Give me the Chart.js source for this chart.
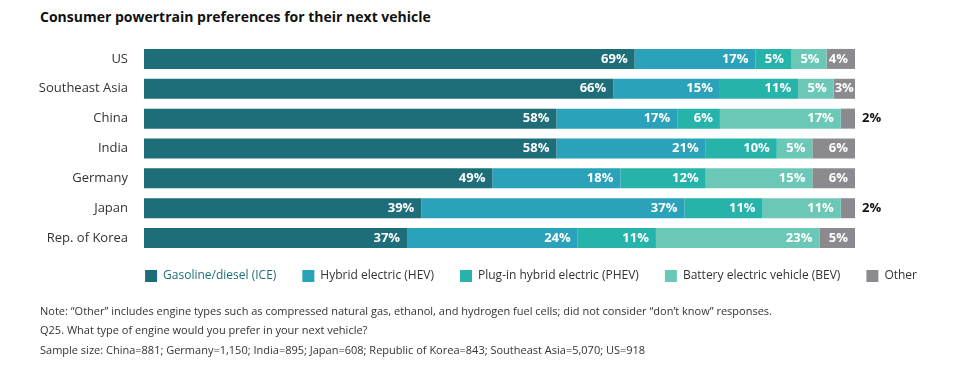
<!DOCTYPE html>
<html>
<head>
<meta charset="utf-8">
<script src="https://cdn.jsdelivr.net/npm/chart.js@4"></script>
<style>
  html, body { margin: 0; padding: 0; background: #fff; }
  body { width: 964px; height: 372px; position: relative; overflow: hidden; font-family: "Open Sans", sans-serif; }
  #title { position: absolute; left: 40px; top: 7px; font-size: 14px; font-weight: bold; color: #111; }
  #wrap { position: absolute; left: 0; top: 0; width: 964px; height: 305px; }
  .note { position: absolute; left: 40px; font-size: 11px; color: #333; white-space: nowrap; }
</style>
</head>
<body>
<div id="title">Consumer powertrain preferences for their next vehicle</div>
<div id="wrap"><canvas id="chart"></canvas></div>
<div class="note" style="top:303px">Note: “Other” includes engine types such as compressed natural gas, ethanol, and hydrogen fuel cells; did not consider “don’t know” responses.</div>
<div class="note" style="top:322px">Q25. What type of engine would you prefer in your next vehicle?</div>
<div class="note" style="top:342px">Sample size: China=881; Germany=1,150; India=895; Japan=608; Republic of Korea=843; Southeast Asia=5,070; US=918</div>

<script>
// ========== Data ==========

const countries = ['US', 'Southeast Asia', 'China', 'India', 'Germany', 'Japan', 'Rep. of Korea'];
const seriesNames = ['Gasoline/diesel (ICE)', 'Hybrid electric (HEV)', 'Plug-in hybrid electric (PHEV)', 'Battery electric vehicle (BEV)', 'Other'];
const iceValues = [69, 66, 58, 58, 49, 39, 37];
const hevValues = [17, 15, 17, 21, 18, 37, 24];
const phevValues = [5, 11, 6, 10, 12, 11, 11];
const bevValues = [5, 5, 17, 5, 15, 11, 23];
const otherValues = [4, 3, 2, 6, 6, 2, 5];
const seriesColors = ['#1d6e78', '#2aa2b9', '#26b3aa', '#6cc8b6', '#8b8b8f'];

// ========== Plugins ==========

// value labels: white inside the segment, black outside for tiny segments
const segmentLabels = {
  id: 'segmentLabels',
  afterDatasetsDraw(chart) {
    const ctx = chart.ctx;
    ctx.save();
    ctx.font = 'bold 13px "Open Sans"';
    ctx.textBaseline = 'middle';
    chart.data.datasets.forEach((ds, di) => {
      const meta = chart.getDatasetMeta(di);
      meta.data.forEach((bar, i) => {
        const v = ds.data[i];
        const text = v + '%';
        const tw = ctx.measureText(text).width;
        const w = bar.x - bar.base;
        if (v <= 2) {
          ctx.fillStyle = '#111';
          ctx.textAlign = 'left';
          ctx.fillText(text, bar.x + 7, bar.y);
        } else {
          const pad = Math.max(1, Math.min(7, w - tw - 1));
          ctx.fillStyle = '#fff';
          ctx.textAlign = 'right';
          ctx.fillText(text, bar.x - pad, bar.y);
        }
      });
    });
    ctx.restore();
  }
};

// pull the legend up closer to the bars
const legendNudge = {
  id: 'legendNudge',
  afterLayout(chart) {
    const lg = chart.legend;
    if (!lg) return;
    lg.top -= 9;
    lg.bottom -= 9;
  }
};

// ========== Chart ==========

const allValues = [iceValues, hevValues, phevValues, bevValues, otherValues];

new Chart(document.getElementById('chart'), {
  type: 'bar',
  data: {
    labels: countries,
    datasets: allValues.map((vals, i) => ({
      label: seriesNames[i],
      data: vals,
      backgroundColor: seriesColors[i],
      borderWidth: 0,
      categoryPercentage: 1,
      barPercentage: 0.67,
    })),
  },
  options: {
    indexAxis: 'y',
    responsive: true,
    maintainAspectRatio: false,
    animation: false,
    layout: { padding: { top: 44, right: 21, left: 0, bottom: 4 } },
    scales: {
      x: { stacked: true, min: 0, max: 100, display: false },
      y: {
        stacked: true,
        grid: { display: false, drawTicks: false },
        border: { display: false },
        ticks: { padding: 16, color: '#333', font: { family: 'Open Sans', size: 13 } },
        afterFit: (scale) => { scale.width = 144; },
      },
      yRight: {
        type: 'category',
        position: 'right',
        grid: { display: false, drawTicks: false },
        border: { display: false },
        ticks: { display: false },
        afterFit: (scale) => { scale.width = 88; },
      },
    },
    plugins: {
      legend: {
        position: 'bottom',
        align: 'end',
        labels: {
          boxWidth: 12,
          boxHeight: 12,
          padding: 26,
          color: '#333',
          font: { family: 'Open Sans', size: 12 },
          generateLabels: (chart) => {
            const items = Chart.defaults.plugins.legend.labels.generateLabels(chart);
            items.forEach((it, i) => {
              it.fontColor = i === 0 ? seriesColors[0] : '#333';
              it.lineWidth = 0;
            });
            return items;
          },
        },
      },
      tooltip: { enabled: false },
    },
  },
  plugins: [segmentLabels, legendNudge],
});
</script>
</body>
</html>
